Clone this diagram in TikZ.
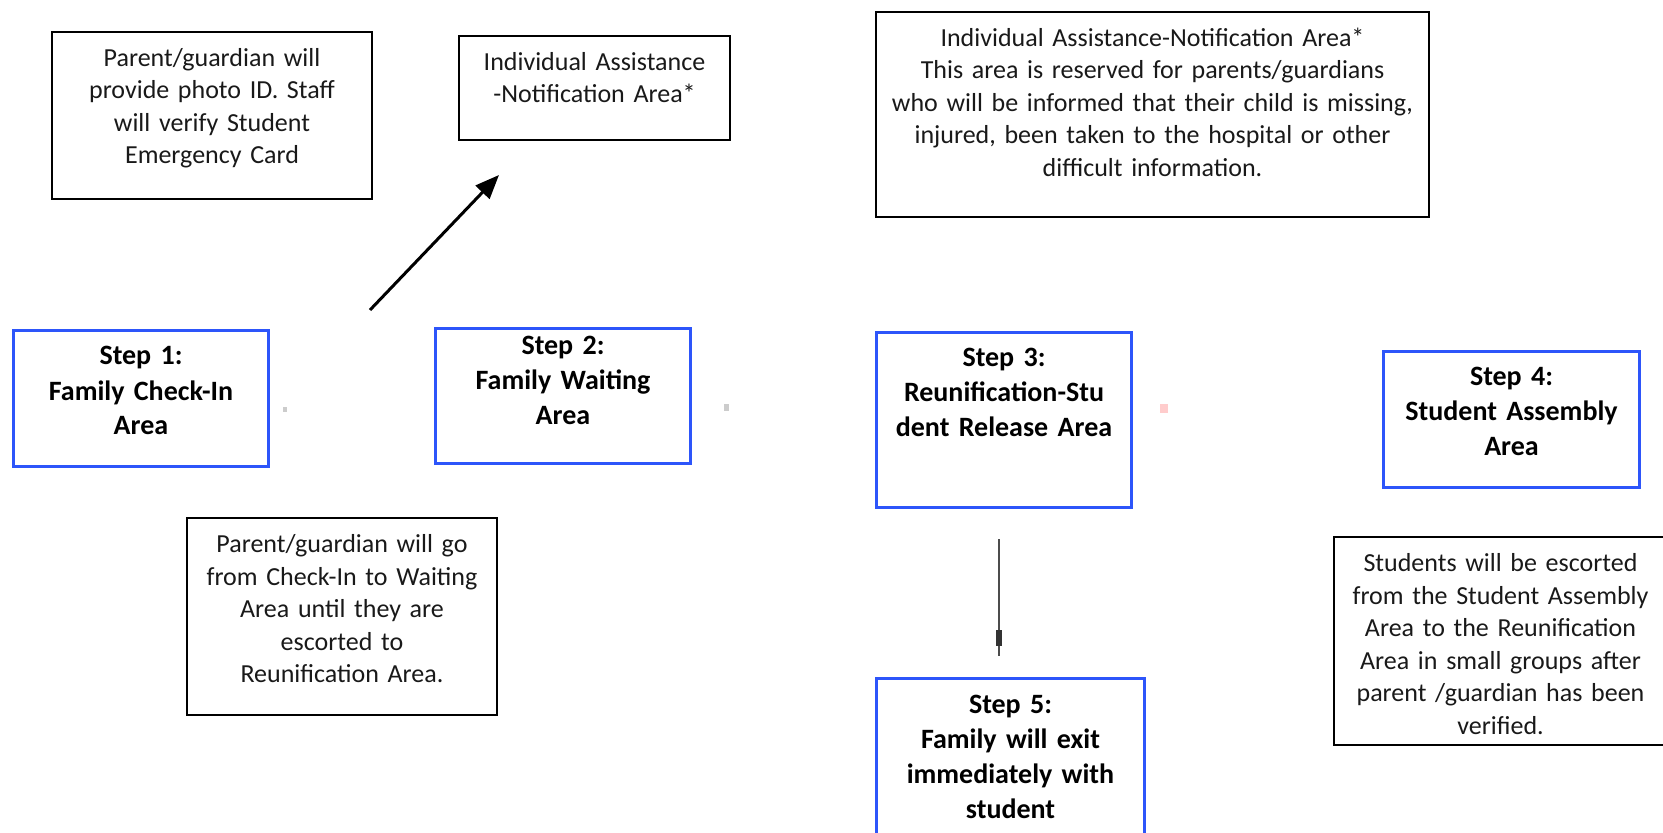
\documentclass[tikz,border=0pt]{standalone}
\usepackage{fontspec}
\setmainfont{Carlito}
\usetikzlibrary{arrows.meta}
\definecolor{stepblue}{RGB}{45,85,250}
\tikzset{
  notebox/.style={draw=black, line width=1pt, anchor=north west, inner sep=0pt,
    align=center, text=black!90, text height=17.25pt,
    font=\fontsize{13}{16.25}\selectfont},
  stepbox/.style={notebox, draw=stepblue, line width=1.5pt, text=black,
    font=\bfseries\fontsize{14}{17.5}\selectfont},
}
\begin{document}
\begin{tikzpicture}[x=0.5pt,y=-0.5pt]
  \clip (0,0) rectangle (1663,833);

  % Notas de arriba
  \node[notebox, text width=160pt, text depth=66.5pt] (idcheck) at (51,31)
    {Parent/guardian will\\provide photo ID. Staff\\will verify Student\\Emergency Card};
  \node[notebox, text width=135.5pt, text depth=34.75pt] (assistshort) at (458,35)
    {Individual Assistance\\-Notification Area*};
  \node[notebox, text width=276.5pt, text depth=85.5pt] (assistnote) at (875,11)
    {Individual Assistance-Notification Area*\\This area is reserved for parents/guardians\\who will be informed that their child is missing,\\injured, been taken to the hospital or other\\difficult information.};

  % Pasos
  \node[stepbox, text width=127.5pt, text depth=50.75pt] (checkin) at (12,329)
    {Step 1:\\Family Check-In\\Area};
  \node[stepbox, text width=127.5pt, text height=13.25pt, text depth=54.25pt] (waiting) at (434,327)
    {Step 2:\\Family Waiting\\Area};
  \node[stepbox, text width=127.5pt, text depth=70.25pt] (release) at (875,331)
    {Step 3:\\Reunification-Stu\\dent Release Area};
  \node[stepbox, text width=128pt, text depth=50.5pt] (assembly) at (1382,350)
    {Step 4:\\Student Assembly\\Area};
  \node[stepbox, text width=134pt, text depth=69.25pt] (leave) at (875,677)
    {Step 5:\\Family will exit\\immediately with\\student};

  % Notas de abajo
  \node[notebox, text width=155pt, text depth=81pt] (waitnote) at (186,517)
    {Parent/guardian will go\\from Check-In to Waiting\\Area until they are\\escorted to\\Reunification Area.};
  \node[notebox, text width=166.5pt, text depth=86.5pt] (escortnote) at (1333,536)
    {Students will be escorted\\from the Student Assembly\\Area to the Reunification\\Area in small groups after\\parent /guardian has been\\verified.};

  % Flecha
  \coordinate (arrowfrom) at (370,310);
  \coordinate (arrowto) at (499,175);
  \draw[line width=1.5pt, -{Triangle[length=12pt,width=9.5pt]}] (arrowfrom) -- (arrowto);

  % Linea hacia el paso 5
  \coordinate (linefrom) at (999,539);
  \coordinate (lineto) at (999,656);
  \draw[gray!60!black, line width=1pt] (linefrom) -- (lineto);
  \fill[gray!40!black] (996,630) rectangle (1002,646);

  % Marcas
  \fill[gray!40] (283,407) rectangle (287,412);
  \fill[gray!40] (724,404) rectangle (729,411);
  \fill[red!20] (1160,404) rectangle (1168,413);
\end{tikzpicture}
\end{document}
